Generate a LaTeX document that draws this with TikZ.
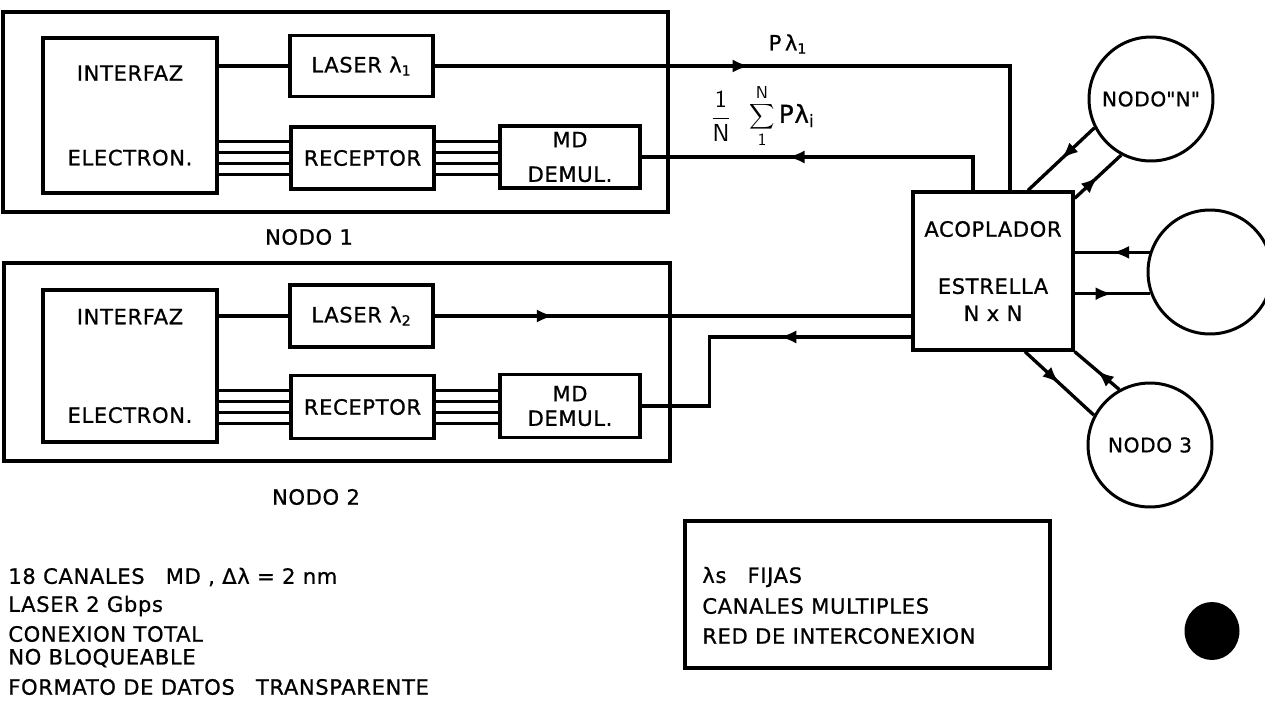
\documentclass[tikz,border=0pt]{standalone}
\usepackage{fontspec}
\setmainfont{DejaVu Sans}[LetterSpace=3, FakeBold=0.8]
\newfontfamily\rawquote{DejaVu Sans}[Ligatures=TeXOff, FakeBold=0.8]
\usetikzlibrary{arrows.meta, calc, decorations.markings}
\tikzset{
  blk/.style={rectangle, draw=black, line width=1.9pt, align=center, inner sep=0pt},
  nodobox/.style={rectangle, draw=black, line width=1.9pt, inner sep=0pt},
  wire/.style={line width=1.9pt},
  bus/.style={line width=1.5pt},
  flow/.style={wire, postaction={decorate}, decoration={markings,
      mark=at position #1 with {\arrow{Latex[length=3.4mm,width=2.6mm]}}}},
  flow/.default=0.5,
  station/.style={circle, draw=black, line width=1.7pt, minimum size=2.48cm, inner sep=0pt,
      font=\fontsize{11.5}{13}\selectfont},
  note/.style={anchor=west, inner sep=0pt},
}

\begin{document}
\begin{tikzpicture}[x=0.02cm, y=-0.02cm, font=\fontsize{12}{14}\selectfont]
\useasboundingbox (0,0) rectangle (1265,717);

% ── Nodo 1 ────────────────────────────────────────────────────────────────────
\node[nodobox, minimum width=13.3cm, minimum height=4cm] (n1) at (335.5,112) {};
\node[blk, minimum width=3.48cm, minimum height=3.1cm] (ie1) at (130,115.5)
  {INTERFAZ\\[1.2cm]ELECTRON.};
\node[blk, minimum width=2.86cm, minimum height=1.22cm] (las1) at (361.5,66)
  {LASER λ\textsubscript{1}};
\node[blk, minimum width=2.86cm, minimum height=1.24cm] (rec1) at (362.5,158) {RECEPTOR};
\node[blk, minimum width=2.8cm, minimum height=1.24cm] (md1) at (570,157)
  {MD\\[0.2cm]DEMUL.};
\node (lab1) at (309,237) {NODO 1};

% ── Nodo 2 ────────────────────────────────────────────────────────────────────
\node[nodobox, minimum width=13.32cm, minimum height=3.96cm] (n2) at (337,362) {};
\node[blk, minimum width=3.48cm, minimum height=3.04cm] (ie2) at (130,366)
  {INTERFAZ\\[1.48cm]ELECTRON.};
\node[blk, minimum width=2.86cm, minimum height=1.24cm] (las2) at (361.5,316)
  {LASER λ\textsubscript{2}};
\node[blk, minimum width=2.86cm, minimum height=1.26cm] (rec2) at (362.5,407) {RECEPTOR};
\node[blk, minimum width=2.8cm, minimum height=1.26cm] (md2) at (570,406) {MD\\DEMUL.};
\node (lab2) at (316,497) {NODO 2};

% ── Acoplador estrella y nodos remotos ───────────────────────────────────────
\node[blk, minimum width=3.2cm, minimum height=3.16cm] (coup) at (993,271)
  {ACOPLADOR\\[0.65cm]ESTRELLA\\[0.05cm]N x N};
\node[station] (sN) at (1151,99) {NODO{\rawquote "}N{\rawquote "}};
\node[station] (sX) at (1210,272) {};
\node[station] (s3) at (1150,445) {NODO 3};

% ── Conexiones internas ──────────────────────────────────────────────────────
\draw[wire] (ie1.east |- las1.west) -- (las1.west);
\draw[wire] (ie2.east |- las2.west) -- (las2.west);
\foreach \d in {-0.33,-0.11,0.11,0.33} {
  \draw[bus] ($(ie1.east |- rec1.west)+(0,\d cm)$) -- ($(rec1.west)+(0,\d cm)$);
  \draw[bus] ($(rec1.east)+(0,\d cm)$) -- ($(rec1.east -| md1.west)+(0,\d cm)$);
  \draw[bus] ($(ie2.east |- rec2.west)+(0,\d cm)$) -- ($(rec2.west)+(0,\d cm)$);
  \draw[bus] ($(rec2.east)+(0,\d cm)$) -- ($(rec2.east -| md2.west)+(0,\d cm)$);
}

% ── Fibras: nodos -> acoplador ───────────────────────────────────────────────
\draw[flow=0.45] (las1.east) -| ([xshift=0.34cm]coup.north);
\draw[flow=0.6] ([xshift=-0.4cm]coup.north) |- (md1.east);
\draw[flow=0.25] (las2.east) -- (las2.east -| coup.west);
\draw[flow=0.39] ([yshift=-1.32cm]coup.west) -| ([xshift=1.36cm]md2.east) -- (md2.east);

\draw[flow] (sN.207) -- ([xshift=0.7cm]coup.north);
\draw[flow] ([yshift=-0.16cm]coup.north east) -- (sN.242);
\draw[flow] (sX.162) -- (sX.162 -| coup.east);
\draw[flow] (sX.200 -| coup.east) -- (sX.200);
\draw[flow] ([xshift=0.64cm]coup.south) -- (s3.152);
\draw[flow] (s3.119) -- (coup.south east);

% ── Etiquetas de potencia ────────────────────────────────────────────────────
\node (plam) at (788,44) {P\,λ\textsubscript{1}};
\node[font=\fontsize{14}{16}\selectfont] (pfrac) at (721,116)
  {$\displaystyle\frac{\mathsf{1}}{\mathsf{N}}$};
\node[font=\fontsize{14}{16}\selectfont] (psum) at (782,116)
  {$\displaystyle\sum_{\mathsf{1}}^{\mathsf{N}}$\,Pλ\textsubscript{i}};

% ── Notas ─────────────────────────────────────────────────────────────────────
\node[note] (t1) at (8,577) {18 CANALES\quad MD\ , Δλ = 2 nm};
\node[note] (t2) at (8,606) {LASER 2 Gbps};
\node[note] (t3) at (8,634) {CONEXION TOTAL};
\node[note] (t4) at (8,658) {NO BLOQUEABLE};
\node[note] (t5) at (8,687) {FORMATO DE DATOS\quad TRANSPARENTE};

\node[nodobox, minimum width=7.3cm, minimum height=2.94cm] (leg) at (867.5,594.5) {};
\node[note] (l1) at (702,577) {λs\quad FIJAS};
\node[note] (l2) at (702,606) {CANALES MULTIPLES};
\node[note] (l3) at (702,636) {RED DE INTERCONEXION};

\fill (1212,631) ellipse [x radius=0.55cm, y radius=0.58cm];

\end{tikzpicture}
\end{document}
